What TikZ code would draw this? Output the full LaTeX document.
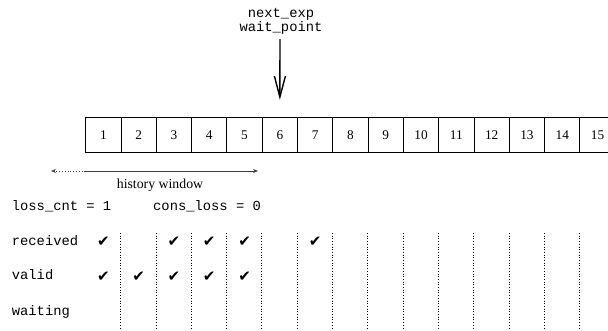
\documentclass[tikz,border=0pt]{standalone}
\usepackage{fontspec}
\setmainfont{Liberation Serif}
\setmonofont{Liberation Mono}
\newfontfamily\symfont{DejaVu Sans}
\usetikzlibrary{arrows.meta}
\tikzset{
  cell/.style={draw, line width=0.9pt, minimum width=35.3pt, minimum height=35.4pt, inner sep=0pt, font=\fontsize{13.3}{15}\selectfont},
  code/.style={font=\ttfamily\fontsize{13.8}{16}\selectfont, inner sep=0pt},
  serif/.style={font=\fontsize{13.8}{16}\selectfont, inner sep=0pt},
  chk/.style={font=\symfont\fontsize{15}{16}\selectfont, inner sep=0pt},
  vdot/.style={dotted, line width=0.7pt},
  bigarrow/.style={line width=1.4pt, -{Straight Barb[length=21pt,width=11pt,line width=1.4pt]}},
  harrow/.style={line width=0.8pt, black!75},
}
\begin{document}
\begin{tikzpicture}[x=1pt,y=-1pt]
\useasboundingbox (0,0) rectangle (608,330);
\clip (0,0) rectangle (608,330);
% cells
\foreach \i in {1,...,15} {
  \node[cell] (c\i) at ({85.7+35.3*(\i-0.5)},135) {\i};
}
% top label and arrow
\node[code, align=center, anchor=north, font=\ttfamily\fontsize{13.8}{12}\selectfont] (wp) at (281,8.3) {next\_exp\\wait\_point};
\draw[bigarrow] (280,39) -- ([yshift=17pt]c6.north);
% history window
\coordinate (hL) at (51,171);
\coordinate (hM) at (c1.west |- hL);
\coordinate (hR) at (258,171);
\draw[harrow, dotted, -{Stealth[length=5pt,width=4pt]}] (hM) -- (hL);
\draw[harrow, -{Stealth[length=5pt,width=4pt]}] (hM) -- (hR);
\node[serif, anchor=base] (hw) at (160,188) {history window};
% labels
\node[code, anchor=base west] (lc) at (11.7,210) {loss\_cnt = 1};
\node[code, anchor=base west] (cl) at (153,210) {cons\_loss = 0};
\node[code, anchor=base west] (rc) at (11.7,245) {received};
\node[code, anchor=base west] (vl) at (11.7,279.5) {valid};
\node[code, anchor=base west] (wt) at (11.7,315) {waiting};
% dotted verticals
\coordinate (top) at (0,233);
\coordinate (bot) at (0,330);
\foreach \i in {2,...,15} {
  \draw[vdot] (c\i.west |- top) -- (c\i.west |- bot);
}
% checks
\coordinate (ry) at (0,242);
\coordinate (vy) at (0,277);
\foreach \i in {1,3,4,5,7} {
  \node[chk] (r\i) at (c\i |- ry) {✔};
}
\foreach \i in {1,2,3,4,5} {
  \node[chk] (v\i) at (c\i |- vy) {✔};
}
\end{tikzpicture}
\end{document}
